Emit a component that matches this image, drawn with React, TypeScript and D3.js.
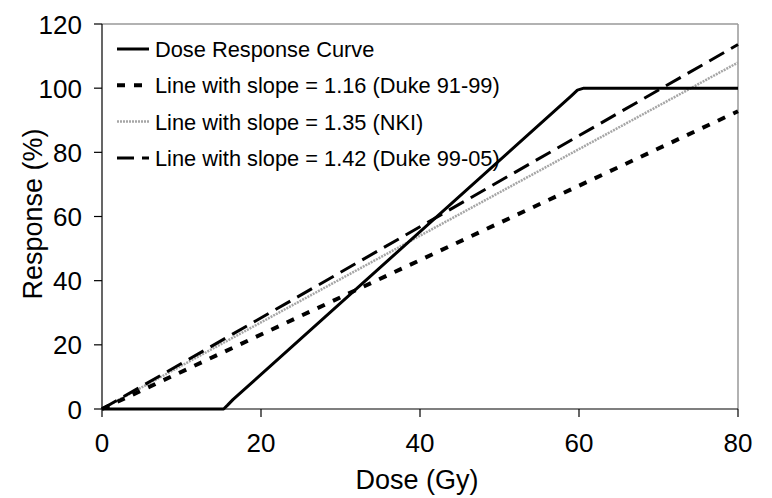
import React from "react";
import * as d3 from "d3";

const doseCurve: [number, number][] = [
  [0, 0], [15.3, 0], [15.8, 1.2], [16.5, 3], [59, 97.5], [59.8, 99.4], [60.6, 100], [80, 100],
];
const slopes = [1.16, 1.35, 1.42];
const seriesNames = [
  "Dose Response Curve",
  "Line with slope = 1.16 (Duke 91-99)",
  "Line with slope = 1.35 (NKI)",
  "Line with slope = 1.42 (Duke 99-05)",
];
const xTicks = [0, 20, 40, 60, 80];
const yTicks = [0, 20, 40, 60, 80, 100, 120];
const lineDoses = [0, 80];

const W = 772, H = 498;
const FONT = "'Liberation Sans', Arial, sans-serif";

const styles = [
  { stroke: "#000", width: 3, dash: "none" },
  { stroke: "#000", width: 4, dash: "8,9" },
  { stroke: "#a6a6a6", width: 2.5, dash: "2,1" },
  { stroke: "#000", width: 3, dash: "17,8" },
];

export default function App() {
  const x = d3.scaleLinear().domain([0, 80]).range([102, 738]);
  const y = d3.scaleLinear().domain([0, 120]).range([409, 24]);
  const line = d3.line<[number, number]>().x(d => x(d[0])).y(d => y(d[1]));

  const slopeLines = slopes.map(s => lineDoses.map(d => [d, s * d] as [number, number]));
  const paths = [doseCurve, ...slopeLines];
  const order = [2, 1, 3, 0];

  return (
    <svg width={W} height={H} style={{ position: "absolute", left: 0, top: 0, background: "#fff" }} fontFamily={FONT}>
      <rect x={0} y={0} width={W} height={H} fill="#fff" />
      <line x1={x(0)} x2={x(80)} y1={y(120)} y2={y(120)} stroke="#999" strokeWidth={1.5} />
      <line x1={x(80)} x2={x(80)} y1={y(120)} y2={y(0)} stroke="#999" strokeWidth={1.5} />
      {order.map(i => (
        <path key={i} d={line(paths[i]) || ""} fill="none" stroke={styles[i].stroke}
          strokeWidth={styles[i].width} strokeDasharray={styles[i].dash} strokeLinejoin="round" />
      ))}
      <line x1={x(0)} x2={x(0)} y1={y(120)} y2={y(0)} stroke="#000" strokeWidth={1.2} />
      <line x1={x(0)} x2={x(80)} y1={y(0)} y2={y(0)} stroke="#000" strokeWidth={1.2} />
      {yTicks.map(t => (
        <g key={"y" + t}>
          <line x1={x(0) - 8} x2={x(0)} y1={y(t)} y2={y(t)} stroke="#000" strokeWidth={1.2} />
          <text x={82} y={y(t)} dy="0.37em" textAnchor="end" fontSize={26}>{t}</text>
        </g>
      ))}
      {xTicks.map(t => (
        <g key={"x" + t}>
          <line x1={x(t)} x2={x(t)} y1={y(0)} y2={y(0) + 8} stroke="#000" strokeWidth={1.2} />
          <text x={x(t)} y={452} textAnchor="middle" fontSize={26}>{t}</text>
        </g>
      ))}
      <text x={417} y={489} textAnchor="middle" fontSize={27}>Dose (Gy)</text>
      <text transform={`translate(42,${214}) rotate(-90)`} textAnchor="middle" fontSize={27}>Response (%)</text>
      {seriesNames.map((n, i) => {
        const by = 57 + i * 36.3;
        const ly = by - 8;
        return (
          <g key={n}>
            <line x1={117} x2={149} y1={ly} y2={ly} stroke={styles[i].stroke}
              strokeWidth={styles[i].width} strokeDasharray={styles[i].dash} />
            <text x={155} y={by} fontSize={21.8}>{n}</text>
          </g>
        );
      })}
    </svg>
  );
}
